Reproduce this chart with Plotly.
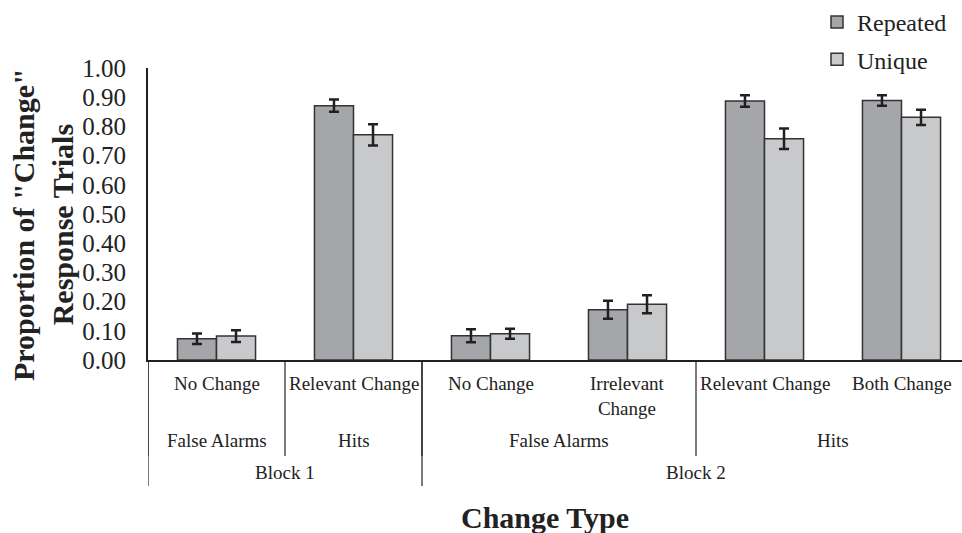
import plotly.graph_objects as go

categories = ["No Change", "Relevant Change", "No Change", "Irrelevant<br>Change", "Relevant Change", "Both Change"]
repeated = [0.073, 0.871, 0.083, 0.172, 0.887, 0.889]
repeated_err = [0.018, 0.021, 0.022, 0.031, 0.020, 0.018]
unique = [0.082, 0.771, 0.090, 0.191, 0.758, 0.831]
unique_err = [0.020, 0.036, 0.017, 0.031, 0.035, 0.026]
groups = ["False Alarms", "Hits", "False Alarms", "Hits"]
group_sizes = [1, 1, 2, 2]
blocks = ["Block 1", "Block 2"]
block_sizes = [2, 4]
y_ticks = [0.0, 0.1, 0.2, 0.3, 0.4, 0.5, 0.6, 0.7, 0.8, 0.9, 1.0]

FONT = "Liberation Serif, Times New Roman, serif"
DARK = "#231f20"
W, H = 962, 533
L, R, T, B = 148, 0, 68, 173
plot_h = H - T - B
cat_px = 137.0
plot_w = W - L - R
xs = list(range(len(categories)))

def py(p):
    return (H - B - p) / plot_h

fig = go.Figure()
fig.add_trace(go.Bar(
    x=xs, y=repeated, name="Repeated",
    marker=dict(color="#a5a6aa", line=dict(color="#333333", width=1.5)),
    error_y=dict(type="data", array=repeated_err, color=DARK, thickness=2.5, width=5),
    legendgroup="a",
))
fig.add_trace(go.Bar(
    x=xs, y=unique, name="Unique",
    marker=dict(color="#c8c9cb", line=dict(color="#333333", width=1.5)),
    error_y=dict(type="data", array=unique_err, color=DARK, thickness=2.5, width=5),
    legendgroup="b",
))

annotations = []
for i, c in enumerate(categories):
    annotations.append(dict(x=i, y=py(371), xref="x", yref="paper", text=c, showarrow=False,
                            yanchor="top", xanchor="center",
                            font=dict(family=FONT, size=19, color="#222222")))
shapes = []
start = 0
for g, n in zip(groups, group_sizes):
    center = start + (n - 1) / 2
    annotations.append(dict(x=center, y=py(440), xref="x", yref="paper", text=g, showarrow=False,
                            yanchor="middle", xanchor="center",
                            font=dict(family=FONT, size=19, color="#222222")))
    shapes.append(dict(type="line", xref="x", yref="paper", x0=start - 0.5, x1=start - 0.5,
                       y0=py(360), y1=py(456), line=dict(color="#222222", width=1.2)))
    start += n
start = 0
for b, n in zip(blocks, block_sizes):
    center = start + (n - 1) / 2
    annotations.append(dict(x=center, y=py(472), xref="x", yref="paper", text=b, showarrow=False,
                            yanchor="middle", xanchor="center",
                            font=dict(family=FONT, size=19, color="#222222")))
    shapes.append(dict(type="line", xref="x", yref="paper", x0=start - 0.5, x1=start - 0.5,
                       y0=py(360), y1=py(486), line=dict(color="#222222", width=1.2)))
    start += n

annotations.append(dict(x=-(L - 43) / plot_w, y=py(224), xref="paper", yref="paper",
                        text="<b>Proportion of \"Change\"<br>Response Trials</b>",
                        textangle=-90, showarrow=False, xanchor="center", yanchor="middle",
                        font=dict(family=FONT, size=30, color="#222222")))
annotations.append(dict(x=(545 - L) / plot_w, y=py(517), xref="paper", yref="paper",
                        text="<b>Change Type</b>", showarrow=False, xanchor="center", yanchor="middle",
                        font=dict(family=FONT, size=30, color="#222222")))

fig.update_layout(
    width=W, height=H,
    margin=dict(l=L, r=R, t=T, b=B),
    paper_bgcolor="white", plot_bgcolor="white",
    barmode="group", bargap=0.43, bargroupgap=0,
    font=dict(family=FONT, color="#222222"),
    showlegend=True,
    legend=dict(x=(817 - L) / plot_w, y=py(0), xanchor="left", yanchor="top",
                font=dict(family=FONT, size=24, color="#222222"),
                tracegroupgap=3, itemwidth=30, bgcolor="rgba(0,0,0,0)"),
    xaxis=dict(range=[-0.5, -0.5 + plot_w / cat_px], showticklabels=False, showgrid=False,
               zeroline=False, showline=True, linecolor=DARK, linewidth=2, ticks=""),
    yaxis=dict(range=[0, 1], tickvals=y_ticks, ticktext=[f"{v:.2f}" for v in y_ticks],
               showgrid=False, zeroline=False, showline=True, linecolor=DARK, linewidth=2,
               ticks="", ticklabelstandoff=15, tickfont=dict(family=FONT, size=25, color="#222222")),
    annotations=annotations,
    shapes=shapes,
)

fig.write_html("out.html")
